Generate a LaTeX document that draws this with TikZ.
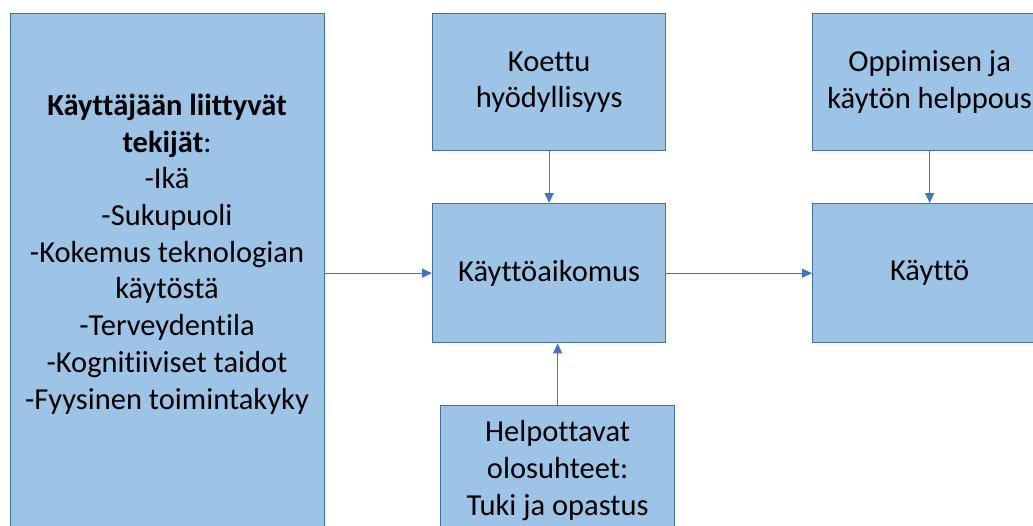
\documentclass[tikz,border=0pt]{standalone}
\usepackage{fontspec}
\setmainfont{Carlito}[Ligatures=NoCommon]
\usetikzlibrary{arrows.meta}
\definecolor{boxfill}{HTML}{9DC3E6}
\definecolor{boxline}{HTML}{41719C}
\definecolor{arr}{HTML}{4472C4}
\begin{document}
\begin{tikzpicture}[x=1pt,y=-1pt,
 box/.style={draw=boxline, fill=boxfill, line width=1.3pt, inner sep=0pt, anchor=north west, align=center, font=\fontsize{30.5}{36.7}\selectfont},
 txt/.style={align=center, font=\fontsize{30.5}{36.7}\selectfont, inner sep=0pt},
 con/.style={draw=arr, line width=1.3pt, -{Triangle[length=10pt,width=9pt]}}]
\useasboundingbox (0,0) rectangle (1033,525);
\clip (0,0) rectangle (1033,525);
\node[box, minimum width=314pt, minimum height=560pt] (user) at (10,13) {};
\node[txt] (usertxt) at (167,254) {\textbf{Käyttäjään liittyvät}\\\textbf{tekijät}:\\-Ikä\\-Sukupuoli\\-Kokemus teknologian\\käytöstä\\-Terveydentila\\-Kognitiiviset taidot\\-Fyysinen toimintakyky};
\node[box, minimum width=233pt, minimum height=137pt] (koettu) at (432,13) {Koettu\\hyödyllisyys};
\node[box, minimum width=234pt, minimum height=137pt] (oppi) at (812,13) {Oppimisen ja\\käytön helppous};
\node[box, minimum width=233pt, minimum height=139pt] (aik) at (432,203) {Käyttöaikomus};
\node[box, minimum width=234pt, minimum height=139pt] (kaytto) at (812,203) {Käyttö};
\node[box, minimum width=234pt, minimum height=130pt] (help) at (440,405) {Helpottavat\\olosuhteet:\\Tuki ja opastus};
\draw[con] (user.east |- aik.west) -- (aik.west);
\draw[con] (aik.east) -- (kaytto.west);
\draw[con] (koettu.south) -- (aik.north);
\draw[con] (oppi.south) -- (kaytto.north);
\draw[con] (help.north) -- (help.north |- aik.south);
\end{tikzpicture}
\end{document}
